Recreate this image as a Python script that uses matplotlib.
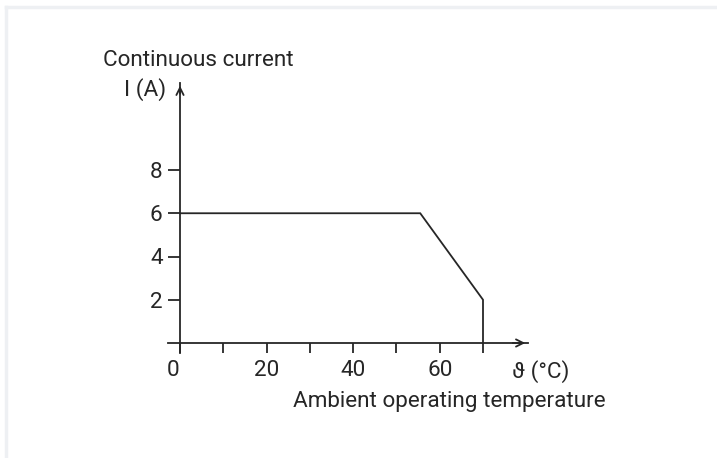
import matplotlib.pyplot as plt
from matplotlib.transforms import ScaledTranslation
from matplotlib.lines import Line2D

plt.rcParams['font.family'] = ['Roboto', 'DejaVu Sans']

# derating curve: continuous current vs ambient temperature
temp = [0, 55.5, 70, 70]
current = [6, 6, 2, 0]

x_ticks = [0, 10, 20, 30, 40, 50, 60, 70]
x_labels = ['0', '', '20', '', '40', '', '60', '']
y_ticks = [2, 4, 6, 8]
y_labels = ['2', '4', '6', '8']

W, H = 717, 458
ink = '#262626'
fig = plt.figure(figsize=(W / 100, H / 100), dpi=100)

# light frame on top / left like the source
fig.add_artist(Line2D([6 / W, 6 / W], [0, 1 - 7 / H], color='#eef0f3', lw=2.5))
fig.add_artist(Line2D([6 / W, 1], [1 - 7 / H, 1 - 7 / H], color='#eef0f3', lw=2.5))

# axes placed in pixels: x=0 at 180px, x=70 at 483px; y=0 at 343px, y=8 at 170px
px_x = (483 - 180) / 70
px_y = (343 - 170) / 8
xmin, xmax = -2.8, (528 - 180) / px_x
ymin, ymax = -0.45, (343 - 83) / px_y
left = 180 + xmin * px_x
bottom = H - (343 - ymin * px_y)
ax = fig.add_axes([left / W, bottom / H, (xmax - xmin) * px_x / W, (ymax - ymin) * px_y / H])
ax.set_xlim(xmin, xmax)
ax.set_ylim(ymin, ymax)
ax.patch.set_visible(False)

for s in ['top', 'right']:
    ax.spines[s].set_visible(False)
ax.spines['left'].set_position(('data', 0))
ax.spines['bottom'].set_position(('data', 0))
for s in ['left', 'bottom']:
    ax.spines[s].set_color(ink)
    ax.spines[s].set_linewidth(1.3)

ax.plot(temp, current, color=ink, lw=1.3, solid_joinstyle='miter')

fs = 16.2
ax.set_xticks(x_ticks, x_labels)
ax.set_yticks(y_ticks, y_labels)
ax.tick_params(axis='x', direction='out', length=7.5, width=1.3, color=ink,
               labelsize=fs, labelcolor=ink, pad=5)
ax.tick_params(axis='y', direction='out', length=8.5, width=1.3, color=ink,
               labelsize=fs, labelcolor=ink, pad=4)
# the "0" label sits a bit left of its tick
lab0 = ax.get_xticklabels()[0]
lab0.set_transform(lab0.get_transform() + ScaledTranslation(-7 / 100, 0, fig.dpi_scale_trans))

# arrow heads on the axes
ax.annotate('', xy=(1, 0), xycoords=('axes fraction', 'data'),
            xytext=(0.95, 0), textcoords=('axes fraction', 'data'),
            arrowprops=dict(arrowstyle='->', color=ink, lw=1.3, mutation_scale=13))
ax.annotate('', xy=(0, 1), xycoords=('data', 'axes fraction'),
            xytext=(0, 0.95), textcoords=('data', 'axes fraction'),
            arrowprops=dict(arrowstyle='->', color=ink, lw=1.3, mutation_scale=13))

fig.text(103 / W, 1 - 60 / H, 'Continuous current', fontsize=fs, color=ink, va='center', ha='left')
fig.text(124 / W, 1 - 90 / H, 'I (A)', fontsize=fs, color=ink, va='center', ha='left')
fig.text(512 / W, 1 - 372 / H, 'ϑ (°C)', fontsize=fs, color=ink, va='center', ha='left')
fig.text(293 / W, 1 - 401 / H, 'Ambient operating temperature', fontsize=fs, color=ink,
         va='center', ha='left')

fig.savefig('out.png', dpi=100)
